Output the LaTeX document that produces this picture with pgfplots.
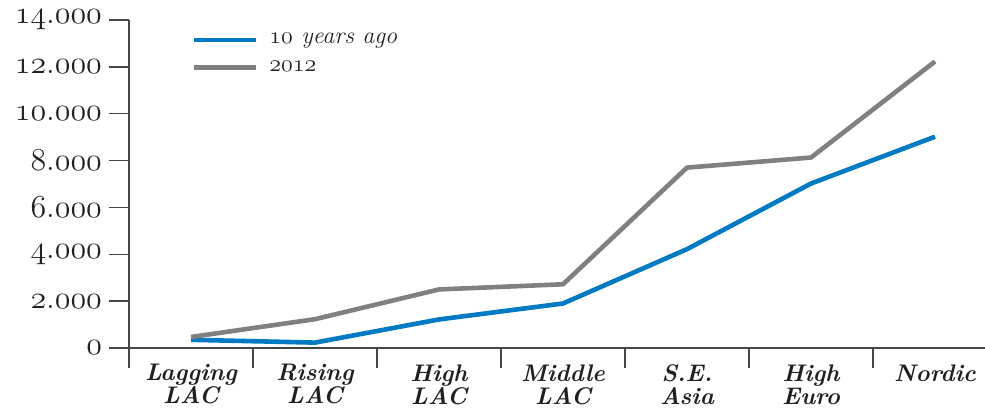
\RequirePackage{fix-cm}
\documentclass[border=0pt]{standalone}
\usepackage{pgfplots}
\pgfplotsset{compat=1.18}
\definecolor{blueline}{RGB}{0,122,194}
\definecolor{grayline}{RGB}{128,128,131}
\definecolor{axisgray}{RGB}{70,70,70}
\definecolor{textblack}{RGB}{35,31,32}
% old-style figures from the math italic font
\newcommand{\osn}[1]{\ensuremath{\mathnormal{#1}}}

\begin{document}
\begin{tikzpicture}
\path[use as bounding box] (-64.5pt,-30pt) rectangle (428pt,174pt);
\begin{axis}[
    scale only axis,
    width=428pt,
    height=164pt,
    xmin=-0.5, xmax=6.403,
    ymin=0, ymax=14000,
    scaled y ticks=false,
    axis x line=bottom,
    axis y line=left,
    axis line style={-, axisgray, line width=0.7pt},
    every tick/.style={axisgray, line width=0.7pt},
    tick align=outside,
    major tick length=10pt,
    ytick={0,2000,...,14000},
    yticklabels={\osn{0},\osn{2.000},\osn{4.000},\osn{6.000},\osn{8.000},\osn{10.000},\osn{12.000},\osn{14.000}},
    y tick label style={font=\fontsize{16}{16}\selectfont, text=textblack},
    xtick={-0.5,0.5,...,5.5},
    xticklabels={},
    extra x ticks={0,1,2,3,4,5,6},
    extra x tick labels={Lagging\\LAC, Rising\\LAC, High\\LAC, Middle\\LAC, S.E.\\Asia, High\\Euro, Nordic},
    extra x tick style={major tick length=0pt,
      tick label style={align=center, text=textblack, inner sep=2pt, yshift=-6pt,
        font=\bfseries\itshape\fontsize{12}{11.5}\selectfont}},
    legend style={draw=none, fill=none, at={(0.066,0.985)}, anchor=north west,
      font=\itshape\fontsize{12}{14}\selectfont, text=textblack,
      row sep=3pt, column sep=3.5pt, cells={anchor=west}},
    legend image code/.code={\draw[#1] (0pt,0pt) -- (31pt,0pt);},
    clip=false,
  ]
  \addplot[blueline, line width=2.3pt, line join=round] coordinates {
    (0,350) (1,230) (2,1220) (3,1900) (4,4220) (5,7020) (6,9020)
  };
  \addlegendentry{\osn{10} years ago}
  \addplot[grayline, line width=2.3pt, line join=round] coordinates {
    (0,470) (1,1230) (2,2500) (3,2720) (4,7700) (5,8130) (6,12230)
  };
  \addlegendentry{\osn{2012}}
\end{axis}
\end{tikzpicture}
\end{document}
